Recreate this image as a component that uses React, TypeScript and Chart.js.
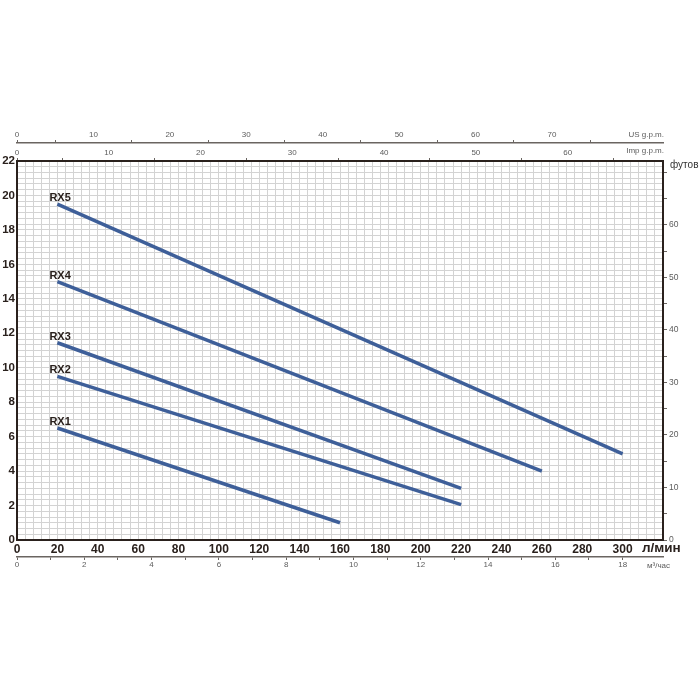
import React, { useEffect, useRef } from "react";
import { Chart, registerables } from "chart.js";

Chart.register(...registerables);

const NARROW = "'Liberation Sans Narrow', 'Arial Narrow', 'Liberation Sans', Arial, sans-serif";
const SANS = "'Liberation Sans', Arial, sans-serif";

const DARK = "#2a211d";
const GRID = "#d3d3d3";
const GRAYLINE = "#6a6561";
const GRAYTEXT = "#5c5c5c";
const LINE = "#3e5f99";
const CLEAR = "rgba(0,0,0,0)";

// axis ranges
const flowMax = 320; // л/мин
const headMax = 22; // m
const flowGridStep = 4;
const headGridDiv = 3; // grid lines per metre

// unit conversions
const LPM_PER_USGPM = 3.78541;
const LPM_PER_IMPGPM = 4.54609;
const LPM_PER_M3H = 1000 / 60;
const M_PER_FT = 0.3048;

// tick labels
const flowLabels = [0, 20, 40, 60, 80, 100, 120, 140, 160, 180, 200, 220, 240, 260, 280, 300];
const headLabels = [0, 2, 4, 6, 8, 10, 12, 14, 16, 18, 20, 22];
const feetTicks = [0, 5, 10, 15, 20, 25, 30, 35, 40, 45, 50, 55, 60, 65, 70];
const feetLabels = [0, 10, 20, 30, 40, 50, 60];
const usGpmTicks = [0, 5, 10, 15, 20, 25, 30, 35, 40, 45, 50, 55, 60, 65, 70, 75];
const usGpmLabels = [0, 10, 20, 30, 40, 50, 60, 70];
const impGpmTicks = [0, 5, 10, 15, 20, 25, 30, 35, 40, 45, 50, 55, 60, 65];
const impGpmLabels = [0, 10, 20, 30, 40, 50, 60];
const m3hTicks = [0, 1, 2, 3, 4, 5, 6, 7, 8, 9, 10, 11, 12, 13, 14, 15, 16, 17, 18];
const m3hLabels = [0, 2, 4, 6, 8, 10, 12, 14, 16, 18];

// series (flow л/мин, head m)
const seriesNames = ["RX1", "RX2", "RX3", "RX4", "RX5"];
const rx1Flow = [20, 160];
const rx1Head = [6.5, 1.0];
const rx2Flow = [20, 220];
const rx2Head = [9.5, 2.05];
const rx3Flow = [20, 220];
const rx3Head = [11.45, 3.0];
const rx4Flow = [20, 260];
const rx4Head = [15.0, 4.0];
const rx5Flow = [20, 300];
const rx5Head = [19.5, 5.0];

const seriesFlows = [rx1Flow, rx2Flow, rx3Flow, rx4Flow, rx5Flow];
const seriesHeads = [rx1Head, rx2Head, rx3Head, rx4Head, rx5Head];

const flowGrid = Array.from({ length: flowMax / flowGridStep + 1 }, (_, i) => i * flowGridStep);
const headGrid = Array.from({ length: headMax * headGridDiv + 1 }, (_, i) => i / headGridDiv);

const has = (arr: number[], v: number) => arr.some((a) => Math.abs(a - v) < 1e-6);
const setTicks = (vals: number[]) => (scale: any) => {
  scale.ticks = vals.map((v) => ({ value: v }));
};
const fixed = (size: number) => (scale: any) => {
  if (scale.isHorizontal()) scale.height = size;
  else scale.width = size;
};
const edgeClear = (max: number) => (ctx: any) => {
  const v = ctx.tick ? ctx.tick.value : -1;
  return Math.abs(v) < 1e-6 || Math.abs(v - max) < 1e-6 ? CLEAR : GRID;
};
const minorTickColor = (labels: number[]) => (ctx: any) => {
  const v = ctx.tick ? ctx.tick.value : 0;
  return v === 0 || !has(labels, v) ? GRAYLINE : CLEAR;
};

const annotate = {
  id: "annotate",
  afterDraw(chart: any) {
    const { ctx, chartArea, scales } = chart;
    ctx.save();
    chart.data.datasets.forEach((ds: any, i: number) => {
      const p = chart.getDatasetMeta(i).data[0];
      ctx.font = `bold 11px ${SANS}`;
      ctx.fillStyle = DARK;
      ctx.textAlign = "left";
      ctx.textBaseline = "alphabetic";
      ctx.fillText(ds.label, p.x - 8, p.y - 3);
    });
    ctx.font = `8px ${NARROW}`;
    ctx.fillStyle = GRAYTEXT;
    ctx.textAlign = "right";
    ctx.textBaseline = "middle";
    ctx.fillText("US g.p.m.", chartArea.right + 1, scales.us.bottom - 8);
    ctx.fillText("Imp g.p.m.", chartArea.right + 1, scales.imp.bottom - 10);
    ctx.textAlign = "left";
    ctx.fillText("м³/час", chartArea.right - 16, scales.m3.top + 9);
    ctx.font = `10px ${SANS}`;
    ctx.fillStyle = "#333333";
    ctx.fillText("футов", chartArea.right + 7, chartArea.top + 4);
    ctx.font = `bold 13.5px ${NARROW}`;
    ctx.fillStyle = DARK;
    ctx.fillText("л/мин", chartArea.right - 21, scales.x.top + 8);
    ctx.restore();
  },
};

export default function App() {
  const ref = useRef<HTMLCanvasElement>(null);

  useEffect(() => {
    const datasets = seriesNames.map((name, i) => ({
      label: name,
      data: seriesFlows[i].map((f, j) => ({ x: f, y: seriesHeads[i][j] })),
      borderColor: LINE,
      backgroundColor: LINE,
      borderWidth: 3.5,
      borderCapStyle: "butt" as const,
      pointRadius: 0,
      fill: false,
      tension: 0,
      xAxisID: "x",
      yAxisID: "y",
    }));

    const smallTicks = (labels: number[]) => ({
      autoSkip: false,
      maxRotation: 0,
      minRotation: 0,
      padding: 0,
      color: GRAYTEXT,
      font: { family: NARROW, size: 8 },
      callback: (v: any) => (has(labels, Number(v)) ? String(v) : ""),
    });

    const chart = new Chart(ref.current as HTMLCanvasElement, {
      type: "line",
      data: { datasets },
      plugins: [annotate],
      options: {
        responsive: false,
        animation: false,
        layout: { padding: 0 },
        plugins: { legend: { display: false }, tooltip: { enabled: false } },
        scales: {
          x: {
            type: "linear",
            position: "bottom",
            weight: 0,
            min: 0,
            max: flowMax,
            afterBuildTicks: setTicks(flowGrid),
            afterFit: fixed(17),
            grid: { color: edgeClear(flowMax), lineWidth: 1, drawTicks: false },
            border: { color: DARK, width: 2 },
            ticks: {
              autoSkip: false,
              maxRotation: 0,
              minRotation: 0,
              padding: 2,
              color: DARK,
              font: { family: NARROW, size: 12, weight: "bold" },
              callback: (v: any) => (has(flowLabels, Number(v)) ? String(v) : ""),
            },
          },
          m3: {
            type: "linear",
            axis: "x",
            position: "bottom",
            weight: 1,
            min: 0,
            max: flowMax / LPM_PER_M3H,
            afterBuildTicks: setTicks(m3hTicks),
            afterFit: fixed(143),
            grid: { drawOnChartArea: false, tickLength: 3, color: GRAYLINE, lineWidth: 1 },
            border: { color: GRAYLINE, width: 1.5 },
            ticks: smallTicks(m3hLabels),
          },
          imp: {
            type: "linear",
            axis: "x",
            position: "top",
            weight: 0,
            min: 0,
            max: flowMax / LPM_PER_IMPGPM,
            afterBuildTicks: setTicks(impGpmTicks),
            afterFit: fixed(18),
            grid: {
              drawOnChartArea: false,
              tickLength: 3,
              color: GRAYLINE,
              tickColor: minorTickColor(impGpmLabels),
              lineWidth: 1,
            },
            border: { color: DARK, width: 2 },
            ticks: smallTicks(impGpmLabels),
          },
          us: {
            type: "linear",
            axis: "x",
            position: "top",
            weight: 1,
            min: 0,
            max: flowMax / LPM_PER_USGPM,
            afterBuildTicks: setTicks(usGpmTicks),
            afterFit: fixed(143),
            grid: {
              drawOnChartArea: false,
              tickLength: 3,
              color: GRAYLINE,
              tickColor: minorTickColor(usGpmLabels),
              lineWidth: 1,
            },
            border: { color: GRAYLINE, width: 1.5 },
            ticks: smallTicks(usGpmLabels),
          },
          y: {
            type: "linear",
            position: "left",
            min: 0,
            max: headMax,
            afterBuildTicks: setTicks(headGrid),
            afterFit: fixed(17),
            grid: { color: edgeClear(headMax), lineWidth: 1, drawTicks: false },
            border: { color: DARK, width: 2 },
            ticks: {
              autoSkip: false,
              padding: 2,
              color: DARK,
              font: { family: SANS, size: 11.5, weight: "bold" },
              callback: (v: any) => (has(headLabels, Number(v)) ? String(Math.round(Number(v))) : ""),
            },
          },
          ft: {
            type: "linear",
            axis: "y",
            position: "right",
            min: 0,
            max: headMax / M_PER_FT,
            afterBuildTicks: setTicks(feetTicks),
            afterFit: fixed(37),
            grid: { drawOnChartArea: false, tickLength: 4, color: GRAYLINE, lineWidth: 1 },
            border: { color: DARK, width: 2 },
            ticks: {
              autoSkip: false,
              padding: 2,
              color: GRAYTEXT,
              font: { family: NARROW, size: 8.5 },
              callback: (v: any) => (has(feetLabels, Number(v)) ? String(v) : ""),
            },
          },
        },
      } as any,
    });
    return () => chart.destroy();
  }, []);

  return (
    <div style={{ position: "absolute", left: 0, top: 0, width: 700, height: 700, background: "#ffffff" }}>
      <canvas ref={ref} width={700} height={700} style={{ display: "block", width: 700, height: 700 }} />
    </div>
  );
}
